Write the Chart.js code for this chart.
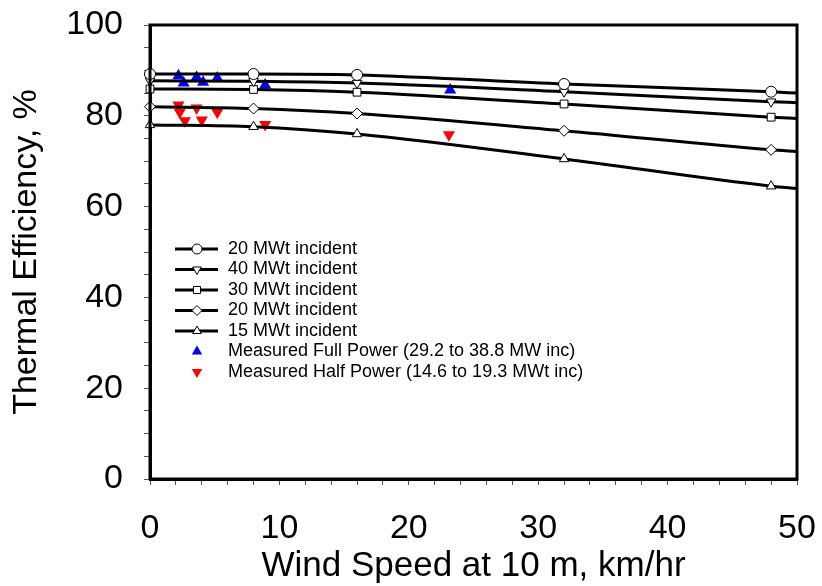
<!DOCTYPE html>
<html>
<head>
<meta charset="utf-8">
<script src="https://cdn.jsdelivr.net/npm/chart.js@4.4.1/dist/chart.umd.min.js"></script>
<style>
  html, body { margin: 0; padding: 0; background: #fff; }
  #wrap { width: 822px; height: 586px; }
</style>
</head>
<body>
<div id="wrap"><canvas id="eff" width="822" height="586"></canvas></div>
<script>
// model curves (wind speed km/hr -> efficiency %)
const windModel = [0, 8, 16, 32, 48, 50];
const eff20top = [89.2, 89.2, 89.0, 87.0, 85.3, 85.0];
const eff40 = [87.7, 87.6, 87.2, 85.3, 83.1, 82.9];
const eff30 = [85.9, 85.8, 85.2, 82.6, 79.7, 79.4];
const eff20 = [82.0, 81.6, 80.5, 76.7, 72.5, 72.1];
const eff15 = [78.0, 77.6, 76.0, 70.5, 64.5, 64.0];

// measured points
const fullWind = [2.2, 2.6, 3.6, 4.1, 5.2, 8.9, 23.2];
const fullEff = [88.8, 87.2, 88.5, 87.4, 88.3, 86.8, 85.7];
const halfWind = [2.2, 2.3, 2.7, 3.6, 4.0, 5.2, 8.9, 23.1];
const halfEff = [82.4, 80.8, 78.9, 81.7, 79.1, 80.8, 78.1, 75.8];

const xTicks = [0, 10, 20, 30, 40, 50];
const yTicks = [0, 20, 40, 60, 80, 100];

const pts = (xs, ys) => xs.map((x, i) => ({ x: x, y: ys[i] }));
const font = '"Liberation Sans", Arial, sans-serif';

// last model point only carries the line to the edge, no marker
const markerRadius = windModel.map((w, i) => i === windModel.length - 1 ? 0 : 5.5);

function modelSet(label, ys, style, rot) {
    return {
        label: label,
        data: pts(windModel, ys),
        showLine: true,
        borderColor: "#000",
        borderWidth: 3,
        pointStyle: style,
        pointRotation: rot || 0,
        pointRadius: markerRadius,
        pointBackgroundColor: "#fff",
        pointBorderColor: "#000",
        pointBorderWidth: 1,
        cubicInterpolationMode: "monotone",
        clip: false,
        legendRadius: 5,
    };
}

const legendBox = {
    id: "legendBox",
    afterDraw(chart) {
        const { ctx, chartArea } = chart;
        const x0 = chartArea.left + 25;
        const y0 = chartArea.top + 224;
        const rowH = 20.5;
        ctx.save();
        ctx.font = "18px " + font;
        ctx.textBaseline = "middle";
        chart.data.datasets.forEach((ds, i) => {
            const y = y0 + i * rowH;
            if (ds.showLine) {
                ctx.strokeStyle = "#000";
                ctx.lineWidth = 3;
                ctx.beginPath();
                ctx.moveTo(x0, y);
                ctx.lineTo(x0 + 43, y);
                ctx.stroke();
            }
            ctx.fillStyle = ds.pointBackgroundColor;
            ctx.strokeStyle = ds.pointBorderColor;
            ctx.lineWidth = ds.pointBorderWidth;
            Chart.helpers.drawPoint(ctx, {
                pointStyle: ds.pointStyle,
                radius: ds.legendRadius,
                rotation: ds.pointRotation || 0,
                borderWidth: ds.pointBorderWidth,
            }, x0 + 22, y);
            ctx.fillStyle = "#000";
            ctx.fillText(ds.label, x0 + 53, y);
        });
        ctx.restore();
    },
};

const frame = {
    id: "frame",
    afterDraw(chart) {
        const { ctx, chartArea: a } = chart;
        ctx.save();
        ctx.strokeStyle = "#000";
        ctx.lineWidth = 3;
        ctx.strokeRect(a.left, a.top, a.right - a.left, a.bottom - a.top);
        ctx.restore();
    },
};

const effConfig = {
    type: "scatter",
    data: {
        datasets: [
            modelSet("20 MWt incident", eff20top, "circle"),
            modelSet("40 MWt incident", eff40, "triangle", 180),
            modelSet("30 MWt incident", eff30, "rect"),
            modelSet("20 MWt incident", eff20, "rectRot"),
            modelSet("15 MWt incident", eff15, "triangle"),
            {
                label: "Measured Full Power (29.2 to 38.8 MW inc)",
                data: pts(fullWind, fullEff),
                showLine: false,
                pointStyle: "triangle",
                pointRadius: 7,
                pointBackgroundColor: "#0000ff",
                pointBorderColor: "#0000ff",
                pointBorderWidth: 0,
                legendRadius: 6,
            },
            {
                label: "Measured Half Power (14.6 to 19.3 MWt inc)",
                data: pts(halfWind, halfEff),
                showLine: false,
                pointStyle: "triangle",
                pointRotation: 180,
                pointRadius: 7,
                pointBackgroundColor: "#ff0000",
                pointBorderColor: "#ff0000",
                pointBorderWidth: 0,
                legendRadius: 6,
            },
        ],
    },
    options: {
        responsive: false,
        animation: false,
        layout: { padding: { top: 25, right: 25, left: 0, bottom: 0 } },
        plugins: {
            legend: { display: false },
            tooltip: { enabled: false },
        },
        scales: {
            x: {
                type: "linear",
                min: 0,
                max: 50,
                afterFit: (s) => { s.height = 107; s.paddingLeft = 0; s.paddingRight = 0; },
                border: { display: true, color: "#000", width: 3 },
                grid: { drawOnChartArea: false, drawTicks: true, tickLength: 6, color: "#555" },
                ticks: {
                    stepSize: 2,
                    autoSkip: false,
                    maxRotation: 0,
                    padding: 23,
                    color: "#000",
                    font: { family: font, size: 34 },
                    callback: (v) => xTicks.includes(v) ? v : "",
                },
                title: {
                    display: true,
                    text: "Wind Speed at 10 m, km/hr",
                    color: "#000",
                    font: { family: font, size: 35, lineHeight: 1.1 },
                    padding: { top: 0, bottom: 0 },
                },
            },
            y: {
                min: 0,
                max: 100,
                afterFit: (s) => { s.width = 150; s.paddingTop = 0; s.paddingBottom = 0; },
                border: { display: true, color: "#000", width: 3 },
                grid: { drawOnChartArea: false, drawTicks: true, tickLength: 6, color: "#555" },
                ticks: {
                    stepSize: 5,
                    autoSkip: false,
                    padding: 21,
                    color: "#000",
                    font: { family: font, size: 34 },
                    callback: (v) => yTicks.includes(v) ? v : "",
                },
                title: {
                    display: true,
                    text: "Thermal Efficiency, %",
                    color: "#000",
                    font: { family: font, size: 34 },
                    padding: { top: 6, bottom: 0 },
                },
            },
        },
    },
    plugins: [legendBox, frame],
};

const effCtx = document.getElementById("eff");
window.effChart = new Chart(effCtx, effConfig);
</script>
</body>
</html>
